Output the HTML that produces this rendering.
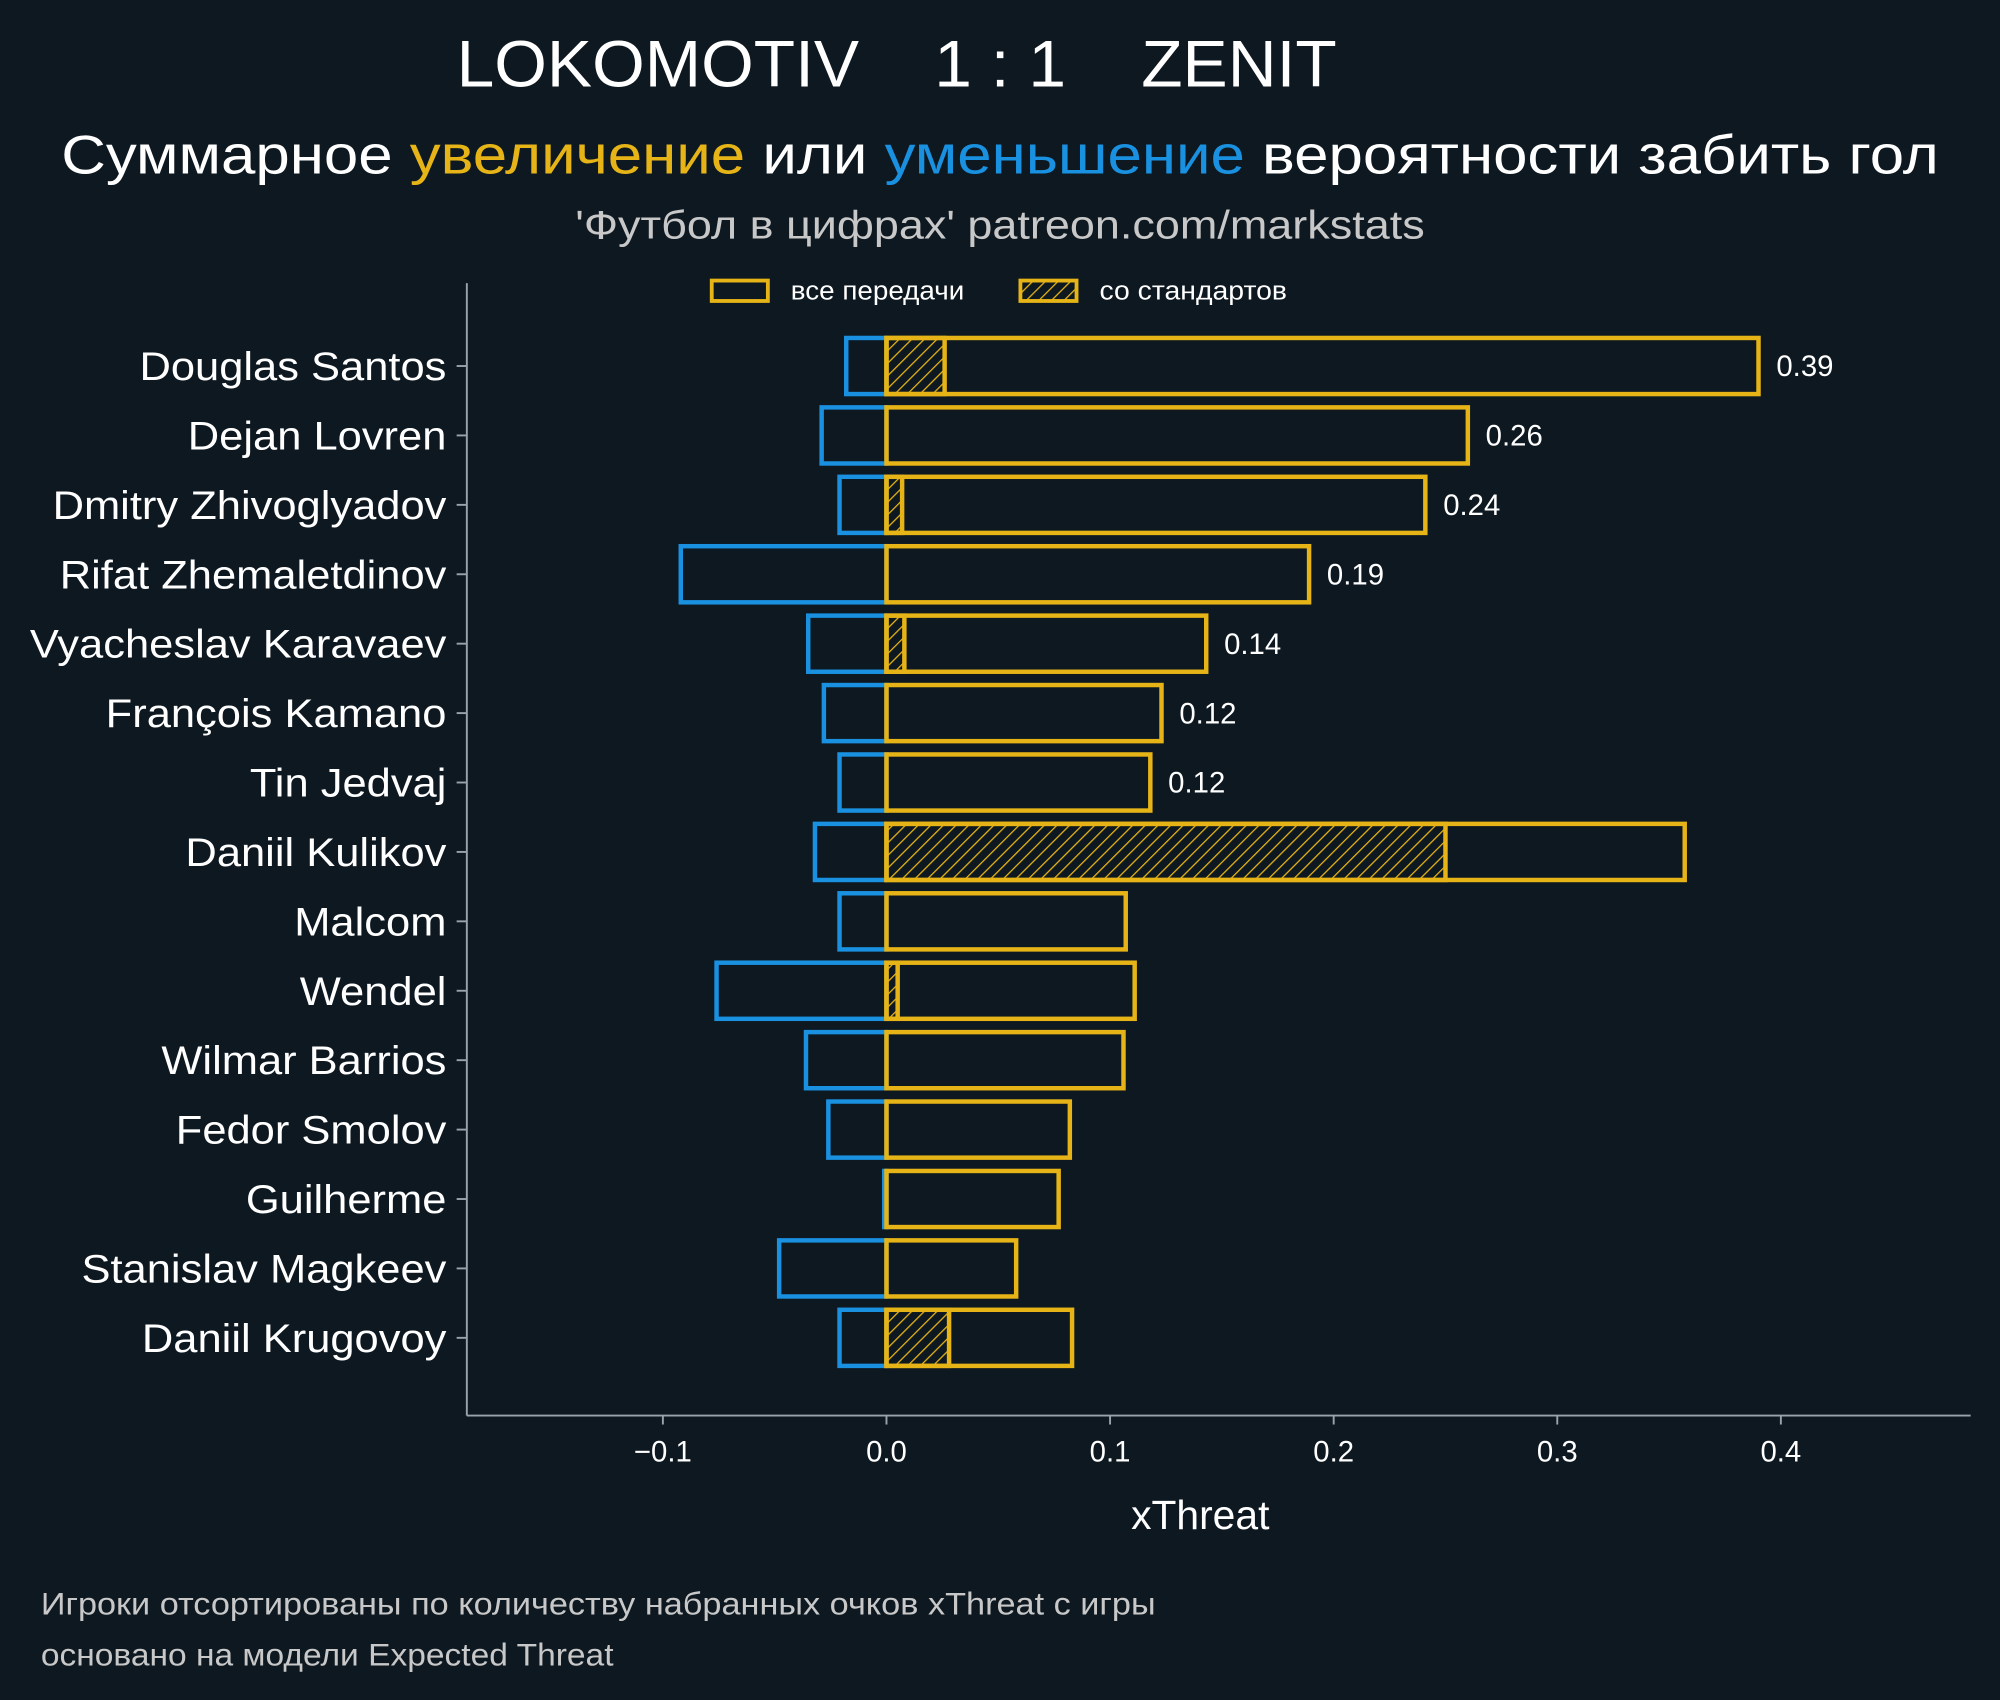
<!DOCTYPE html>
<html><head><meta charset="utf-8">
<style>
html,body{margin:0;padding:0;background:#0d1821;}
svg{display:block;}
text{font-family:"Liberation Sans","DejaVu Sans",sans-serif;}
</style></head>
<body>
<svg id="chart" width="2000" height="1700" viewBox="0 0 1568 1333" preserveAspectRatio="none" xmlns="http://www.w3.org/2000/svg">
<defs>
<pattern id="hatch" patternUnits="userSpaceOnUse" width="7" height="7" patternTransform="rotate(45)">
<line x1="0" y1="0" x2="0" y2="7" stroke="#e6b417" stroke-width="2"/>
</pattern>
</defs>
<rect x="0" y="0" width="1568" height="1333" fill="#0d1821"/>
<text x="703" y="68" text-anchor="middle" font-size="52" fill="#ffffff" xml:space="preserve" textLength="690" lengthAdjust="spacingAndGlyphs">LOKOMOTIV    1 : 1    ZENIT</text>
<text x="784" y="136" text-anchor="middle" font-size="43" fill="#ffffff" textLength="1472" lengthAdjust="spacingAndGlyphs">Суммарное <tspan fill="#e6b417">увеличение</tspan> или <tspan fill="#1a90e0">уменьшение</tspan> вероятности забить гол</text>
<text x="784" y="187" text-anchor="middle" font-size="31" fill="#c8c8c8" textLength="666" lengthAdjust="spacingAndGlyphs">'Футбол в цифрах' patreon.com/markstats</text>
<g>
<rect x="558" y="220" width="44" height="16" fill="none" stroke="#e6b417" stroke-width="3"/>
<text x="620" y="235" font-size="20" fill="#ffffff" textLength="136" lengthAdjust="spacingAndGlyphs">все передачи</text>
<rect x="800" y="220" width="44" height="16" fill="url(#hatch)" stroke="#e6b417" stroke-width="3"/>
<text x="862" y="235" font-size="20" fill="#ffffff" textLength="147" lengthAdjust="spacingAndGlyphs">со стандартов</text>
</g>
<line x1="366" y1="222" x2="366" y2="1110" stroke="#9aa3ab" stroke-width="1.5"/>
<line x1="366" y1="1110" x2="1545" y2="1110" stroke="#9aa3ab" stroke-width="1.5"/>
<g id="marks"></g>
<text x="941" y="1199" text-anchor="middle" font-size="32" fill="#ffffff">xThreat</text>
<text x="32" y="1266" font-size="25" fill="#c8c8c8" textLength="874" lengthAdjust="spacingAndGlyphs">Игроки отсортированы по количеству набранных очков xThreat с игры</text>
<text x="32" y="1306" font-size="25" fill="#c8c8c8" textLength="449" lengthAdjust="spacingAndGlyphs">основано на модели Expected Threat</text>
</svg>
<script>
const players = ["Douglas Santos","Dejan Lovren","Dmitry Zhivoglyadov","Rifat Zhemaletdinov","Vyacheslav Karavaev","François Kamano","Tin Jedvaj","Daniil Kulikov","Malcom","Wendel","Wilmar Barrios","Fedor Smolov","Guilherme","Stanislav Magkeev","Daniil Krugovoy"];
const positiveValues = [0.39,0.26,0.241,0.189,0.143,0.123,0.118,0.357,0.107,0.111,0.106,0.082,0.077,0.058,0.083];
const negativeValues = [-0.018,-0.029,-0.021,-0.092,-0.035,-0.028,-0.021,-0.032,-0.021,-0.076,-0.036,-0.026,-0.001,-0.048,-0.021];
const setPieceValues = [0.026,0,0.007,0,0.008,0,0,0.25,0,0.005,0,0,0,0,0.028];
const valueLabels = ["0.39","0.26","0.24","0.19","0.14","0.12","0.12","","","","","","","",""];
const xTicks = [-0.1,0,0.1,0.2,0.3,0.4];
const xTickLabels = ["−0.1","0.0","0.1","0.2","0.3","0.4"];

const NS = "http://www.w3.org/2000/svg";
const g = document.getElementById("marks");
const x = v => 695 + v * 1753;
const y = i => 287 + i * 54.43;
const BH = 44;
function mk(tag, attrs){const e=document.createElementNS(NS,tag);for(const k in attrs)e.setAttribute(k,attrs[k]);g.appendChild(e);return e;}

players.forEach((p,i)=>{
  const cy=y(i);
  const t=mk("text",{x:350,y:cy+11,"text-anchor":"end","font-size":31,fill:"#ffffff"});
  t.textContent=p;
  
  
  t.setAttribute("transform","translate(350 0) scale(1.1 1) translate(-350 0)");
  const tk=mk("line",{x1:358,x2:366,y1:cy,y2:cy,stroke:"#9aa3ab","stroke-width":1.5});
  
  
  const n=negativeValues[i];
  const nb=mk("rect",{x:x(n),y:cy-BH/2,width:x(0)-x(n),height:BH,fill:"none",stroke:"#1a90e0","stroke-width":3.5});
  
  
  const s=setPieceValues[i];
  if(s>0){
    const sb=mk("rect",{x:x(0),y:cy-BH/2,width:x(s)-x(0),height:BH,fill:"url(#hatch)",stroke:"#e6b417","stroke-width":3.5});
    
    
  }
  const pv=positiveValues[i];
  const pb=mk("rect",{x:x(0),y:cy-BH/2,width:x(pv)-x(0),height:BH,fill:"none",stroke:"#e6b417","stroke-width":3.5});
  
  
  if(valueLabels[i]){
    const vl=mk("text",{x:x(pv)+14,y:cy+8,"font-size":23,fill:"#ffffff"});
    vl.textContent=valueLabels[i];
    
    
  }
});
xTicks.forEach((v,i)=>{
  const tk=mk("line",{x1:x(v),x2:x(v),y1:1110,y2:1117,stroke:"#9aa3ab","stroke-width":1.5});
  
  
  const tl=mk("text",{x:x(v),y:1146,"text-anchor":"middle","font-size":23,fill:"#ffffff"});
  tl.textContent=xTickLabels[i];
  
  
});
</script>
</body></html>
